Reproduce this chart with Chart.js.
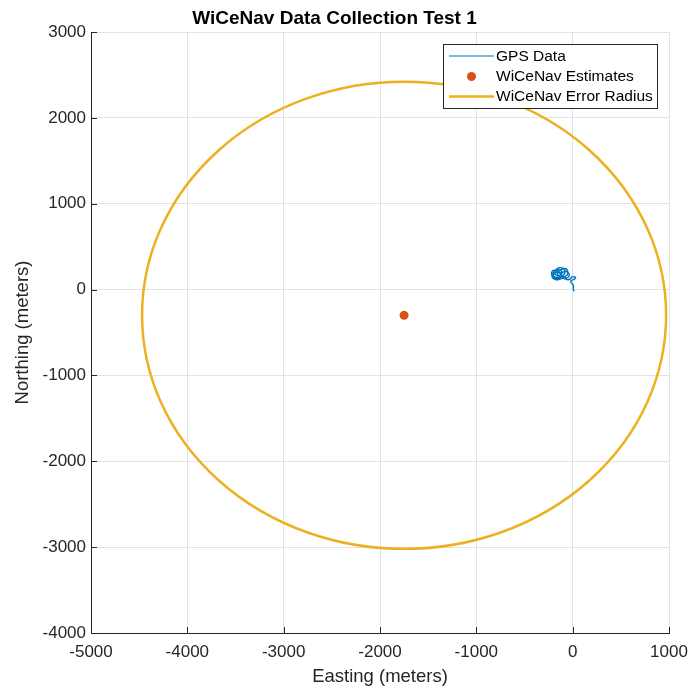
<!DOCTYPE html>
<html>
<head>
<meta charset="utf-8">
<script src="https://cdn.jsdelivr.net/npm/chart.js@4.4.1/dist/chart.umd.min.js"></script>
<style>
  html, body { margin: 0; padding: 0; background: #fff; }
  #wrap { width: 692px; height: 691px; }
</style>
</head>
<body>
<div id="wrap"><canvas id="wicenavChart" width="692" height="691"></canvas></div>
<script>
// GPS track (meters)
let gpsX = [-120, -140, -170, -195, -215, -220, -205, -180, -150, -120, -95, -80, -85, -105, -135, -160, -180, -190, -175, -150,
            -125, -110, -120, -145, -170, -200, -215, -210, -185, -155, -125, -100, -75, -55, -50, -60, -85, -115, -140, -160,
            -150, -120, -90, -65, -45, -35, -45, -70, -100, -130, -165, -195, -200, -175, -140, -110, -80, -50, -25, -10,
            15, 30, 25, 5, -15, -20, -5, 10, 5, 15];
let gpsY = [180, 200, 215, 225, 210, 185, 160, 145, 140, 150, 170, 200, 230, 250, 255, 245, 225, 195, 170, 160,
            170, 195, 220, 230, 220, 200, 170, 140, 120, 115, 125, 140, 155, 175, 205, 235, 245, 235, 215, 190,
            170, 160, 150, 135, 145, 170, 195, 210, 205, 195, 200, 180, 150, 130, 125, 135, 125, 115, 125, 145,
            150, 140, 125, 115, 105, 90, 70, 40, 15, -20];

// WiCeNav estimate and its error radius
let estX = [-1750];
let estY = [-300];
let errRadius = [2720];

// axes
let xTicks = [-5000, -4000, -3000, -2000, -1000, 0, 1000];
let yTicks = [-4000, -3000, -2000, -1000, 0, 1000, 2000, 3000];

let labels = ['GPS Data', 'WiCeNav Estimates', 'WiCeNav Error Radius'];
let colores = ['#0072BD', '#D95319', '#EDB120'];

let fuente = '"Liberation Sans", Arial, sans-serif';

// circle of the error radius, drawn through the scales
let circlePlugin = {
    id: 'errorCircle',
    afterDatasetsDraw(chart) {
        let ctx = chart.ctx;
        let x = chart.scales.x, y = chart.scales.y;
        let area = chart.chartArea;
        ctx.save();
        ctx.beginPath();
        ctx.rect(area.left, area.top, area.right - area.left, area.bottom - area.top);
        ctx.clip();
        for (let i = 0; i < estX.length; i++) {
            let cx = x.getPixelForValue(estX[i]);
            let cy = y.getPixelForValue(estY[i]);
            let rx = Math.abs(x.getPixelForValue(estX[i] + errRadius[i]) - cx);
            let ry = Math.abs(y.getPixelForValue(estY[i] + errRadius[i]) - cy);
            ctx.beginPath();
            ctx.ellipse(cx, cy, rx, ry, 0, 0, Math.PI * 2);
            ctx.strokeStyle = colores[2];
            ctx.lineWidth = 2.5;
            ctx.stroke();
        }
        ctx.restore();
    }
};

// small inward ticks on the left and bottom axes (matlab look)
let tickPlugin = {
    id: 'inwardTicks',
    afterDraw(chart) {
        let ctx = chart.ctx;
        let x = chart.scales.x, y = chart.scales.y;
        let area = chart.chartArea;
        ctx.save();
        ctx.strokeStyle = '#262626';
        ctx.lineWidth = 1;
        ctx.beginPath();
        xTicks.forEach(function(v) {
            let px = Math.round(x.getPixelForValue(v)) + 0.5;
            ctx.moveTo(px, area.bottom);
            ctx.lineTo(px, area.bottom - 6);
        });
        yTicks.forEach(function(v) {
            let py = Math.round(y.getPixelForValue(v)) + 0.5;
            ctx.moveTo(area.left, py);
            ctx.lineTo(area.left + 6, py);
        });
        ctx.stroke();
        ctx.restore();
    }
};

// MATLAB style legend box inside the plot
let legendPlugin = {
    id: 'boxLegend',
    afterDraw(chart) {
        let ctx = chart.ctx;
        let bx = 443, by = 44, bw = 214, bh = 64;
        ctx.save();
        ctx.fillStyle = '#fff';
        ctx.fillRect(bx, by, bw, bh);
        ctx.strokeStyle = '#262626';
        ctx.lineWidth = 1;
        ctx.strokeRect(bx + 0.5, by + 0.5, bw, bh);
        ctx.font = '15.5px ' + fuente;
        ctx.textBaseline = 'middle';
        let filas = [56, 76.5, 96.5];
        chart.data.datasets.forEach(function(ds, i) {
            let yy = filas[i];
            if (i === 1) {
                ctx.beginPath();
                ctx.arc(471.5, yy, 4.5, 0, Math.PI * 2);
                ctx.fillStyle = colores[1];
                ctx.fill();
            } else {
                ctx.beginPath();
                ctx.moveTo(449, yy);
                ctx.lineTo(494, yy);
                ctx.strokeStyle = colores[i];
                ctx.lineWidth = i === 2 ? 2.5 : 1.2;
                ctx.stroke();
            }
            ctx.fillStyle = '#000';
            ctx.fillText(ds.label, 496, yy + 0.5);
        });
        ctx.restore();
    }
};

let ctx = document.getElementById('wicenavChart').getContext('2d');
new Chart(ctx, {
    type: 'scatter',
    data: {
        datasets: [{
            label: labels[0],
            data: gpsX.map((v, i) => ({ x: v, y: gpsY[i] })),
            showLine: true,
            borderColor: colores[0],
            backgroundColor: colores[0],
            borderWidth: 1.4,
            pointRadius: 0,
            tension: 0.2
        }, {
            label: labels[1],
            data: estX.map((v, i) => ({ x: v, y: estY[i] })),
            backgroundColor: colores[1],
            borderColor: colores[1],
            pointRadius: 4.5,
            pointBorderWidth: 0
        }, {
            label: labels[2],
            data: [],
            borderColor: colores[2],
            backgroundColor: colores[2],
            showLine: true
        }]
    },
    options: {
        responsive: false,
        animation: false,
        layout: { padding: { left: 0, right: 23, top: 0, bottom: 0 } },
        plugins: {
            legend: { display: false },
            tooltip: { enabled: false },
            title: {
                display: true,
                text: 'WiCeNav Data Collection Test 1',
                color: '#000',
                font: { family: fuente, size: 19, weight: 'bold' },
                padding: { top: 7, bottom: 2.2 }
            }
        },
        scales: {
            x: {
                type: 'linear',
                min: -5000,
                max: 1000,
                afterBuildTicks: function(axis) { axis.ticks = xTicks.map(v => ({ value: v })); },
                afterFit: function(axis) {
                    axis.height = 58;
                    axis.paddingLeft = 0;
                    axis.paddingRight = 0;
                },
                ticks: {
                    color: '#262626',
                    font: { family: fuente, size: 17 },
                    maxRotation: 0,
                    padding: 9,
                    callback: v => String(v)
                },
                grid: { color: '#e3e3e3', tickLength: 0 },
                border: { color: '#262626', width: 1 },
                title: {
                    display: true,
                    text: 'Easting (meters)',
                    color: '#262626',
                    font: { family: fuente, size: 18.5 },
                    padding: { top: 2, bottom: 3 }
                }
            },
            y: {
                type: 'linear',
                min: -4000,
                max: 3000,
                afterBuildTicks: function(axis) { axis.ticks = yTicks.map(v => ({ value: v })); },
                afterFit: function(axis) {
                    axis.width = 91;
                    axis.paddingTop = 0;
                    axis.paddingBottom = 0;
                },
                ticks: {
                    color: '#262626',
                    font: { family: fuente, size: 17 },
                    padding: 5,
                    callback: v => String(v)
                },
                grid: { color: '#e3e3e3', tickLength: 0 },
                border: { color: '#262626', width: 1 },
                title: {
                    display: true,
                    text: 'Northing (meters)',
                    color: '#262626',
                    font: { family: fuente, size: 18.5 },
                    padding: { top: 12, bottom: 2 }
                }
            }
        }
    },
    plugins: [circlePlugin, tickPlugin, legendPlugin]
});
</script>
</body>
</html>
